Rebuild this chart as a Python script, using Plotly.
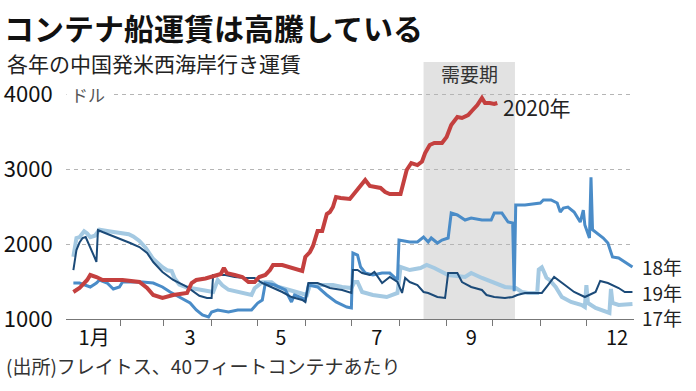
import plotly.graph_objects as go

# ---------------- data (day of year, 0 = Jan 1; freight rate in USD) ----------------
days_17 = [0, 2, 4, 7, 9, 11, 14, 17, 23, 30, 36, 39, 43, 47, 52, 58, 61, 64, 66, 69,
           74, 80, 86, 91, 94, 97, 101, 110, 116, 118, 123, 129, 133, 140, 146, 152, 154, 161, 169, 175,
           181, 183, 185, 188, 195, 204, 211, 213, 219, 226, 230, 235, 244, 255, 259, 266, 274, 281, 288, 292,
           296, 302, 303, 305, 307, 308, 310, 314, 318, 324, 331, 333, 334, 335, 340, 346, 349, 350, 351, 355,
           364]
vals_17 = [1830, 2080, 2090, 2170, 2140, 2090, 2110, 2190, 2170, 2150, 2130, 2100, 2040, 1950, 1800, 1690, 1650, 1640, 1540, 1460,
           1420, 1400, 1380, 1360, 1520, 1450, 1390, 1350, 1320, 1410, 1490, 1490, 1430, 1390, 1350, 1320, 1453, 1453, 1453, 1427,
           1413, 1493, 1493, 1360, 1320, 1293, 1347, 1693, 1653, 1680, 1720, 1680, 1587, 1560, 1613, 1547, 1480, 1427, 1413, 1360,
           1347, 1347, 1660, 1690, 1600, 1550, 1520, 1427, 1293, 1227, 1187, 1160, 1450, 1213, 1147, 1093, 1080, 1400, 1213, 1187,
           1200]

days_18 = [0, 4, 11, 15, 17, 22, 26, 30, 32, 39, 45, 52, 58, 63, 69, 76, 80, 84, 88, 90,
           94, 101, 107, 116, 120, 123, 125, 131, 138, 142, 144, 149, 151, 153, 159, 165, 171, 178, 181, 182,
           185, 187, 190, 195, 201, 206, 211, 212, 219, 224, 228, 231, 233, 237, 240, 244, 246, 250, 255, 259,
           266, 272, 274, 279, 283, 286, 287, 288, 294, 304, 306, 311, 315, 317, 319, 322, 326, 330, 332, 333,
           336, 337, 338, 342, 345, 348, 351, 355, 359, 364]
vals_18 = [1480, 1480, 1427, 1480, 1520, 1480, 1400, 1427, 1493, 1493, 1493, 1480, 1427, 1360, 1293, 1213, 1120, 1053, 1027, 1093,
           1120, 1093, 1120, 1120, 1213, 1253, 1480, 1453, 1387, 1227, 1320, 1280, 1253, 1453, 1427, 1320, 1227, 1160, 1147, 1880,
           1853, 1693, 1613, 1587, 1613, 1613, 1520, 2053, 2027, 2027, 2093, 2027, 2080, 2013, 2053, 2080, 2413, 2387, 2320, 2347,
           2320, 2320, 2413, 2413, 2293, 2280, 1370, 2520, 2520, 2547, 2587, 2587, 2547, 2427, 2480, 2493, 2427, 2293, 2453, 2253,
           2080, 2890, 2190, 2120, 2080, 2013, 1827, 1813, 1760, 1693]

days_19 = [0, 2, 4, 6, 8, 11, 13, 14, 15, 16, 19, 24, 28, 32, 37, 43, 48, 52, 58, 65,
           74, 82, 87, 90, 91, 99, 105, 112, 118, 123, 129, 136, 142, 149, 151, 153, 159, 167, 175, 181,
           182, 185, 188, 193, 196, 200, 201, 206, 211, 214, 216, 219, 224, 228, 231, 237, 242, 244, 250, 253,
           259, 266, 269, 274, 281, 286, 289, 294, 305, 309, 313, 320, 326, 333, 340, 343, 348, 355, 359, 364]
vals_19 = [1653, 1920, 2020, 2080, 2093, 1960, 1880, 1813, 1760, 2187, 2160, 2120, 2093, 2053, 2013, 1960, 1880, 1760, 1627, 1520,
           1427, 1310, 1280, 1280, 1587, 1587, 1560, 1547, 1547, 1480, 1427, 1360, 1293, 1253, 1227, 1480, 1480, 1413, 1387, 1347,
           1653, 1653, 1613, 1587, 1627, 1520, 1480, 1560, 1493, 1347, 1547, 1493, 1453, 1360, 1347, 1293, 1280, 1613, 1613, 1493,
           1427, 1387, 1320, 1293, 1280, 1293, 1320, 1347, 1347, 1453, 1560, 1453, 1360, 1293, 1360, 1507, 1480, 1413, 1360, 1360]

days_20 = [0, 4, 9, 11, 15, 19, 24, 32, 43, 48, 52, 58, 65, 74, 77, 80, 86, 92, 96, 98,
           100, 105, 110, 114, 118, 121, 125, 128, 130, 136, 142, 149, 151, 154, 156, 159, 162, 165, 167, 169,
           171, 174, 180, 183, 187, 190, 193, 200, 203, 206, 213, 214, 217, 220, 224, 227, 229, 232, 235, 240,
           243, 246, 250, 253, 257, 260, 263, 266, 268, 271, 274, 276]
vals_20 = [1360, 1413, 1520, 1587, 1560, 1520, 1520, 1520, 1493, 1413, 1320, 1280, 1320, 1347, 1480, 1520, 1540, 1580, 1600, 1680,
           1610, 1587, 1560, 1493, 1493, 1560, 1587, 1653, 1720, 1720, 1680, 1640, 1827, 1893, 1973, 2173, 2173, 2400, 2427, 2493,
           2627, 2613, 2600, 2680, 2787, 2853, 2773, 2747, 2693, 2667, 2667, 2760, 2987, 3080, 3053, 3100, 3213, 3320, 3347, 3347,
           3427, 3587, 3693, 3680, 3720, 3787, 3853, 3947, 3880, 3880, 3867, 3880]

month_starts = [31, 59, 90, 120, 151, 181, 212, 243, 273, 304, 334]
label_days = [13.5, 76, 135, 197.5, 259, 354]
label_text = ["1月", "3", "5", "7", "9", "12"]
y_ticks = [1000, 2000, 3000, 4000]
y_text = ["1000", "2000", "3000", "4000"]
season_start, season_end = 228, 287.5   # 需要期

FONT = "Noto Sans CJK JP"
X_RANGE = [-4.8, 365]
Y_RANGE = [1000, 4427]

fig = go.Figure()
series = [
    ("17年", days_17, vals_17, "#a4c9e2", 4.0, -13),
    ("18年", days_18, vals_18, "#4a8cc8", 3.0, 1),
    ("19年", days_19, vals_19, "#1b4a78", 2.0, 0),
    ("2020年", days_20, vals_20, "#c4403f", 4.0, -4),
]
for name, d, v, col, w, ysh in series:
    fig.add_trace(go.Scatter(x=d, y=v, mode="lines", line=dict(color=col, width=w),
                             name=name, showlegend=False, hoverinfo="skip"))
    if name == "2020年":
        fig.add_annotation(x=d[-1], y=v[-1], xref="x", yref="y", text=name, showarrow=False,
                           xanchor="left", xshift=4, yshift=ysh,
                           font=dict(family=FONT, size=21, color="#222"))
    else:
        fig.add_annotation(x=1, y=v[-1], xref="paper", yref="y", text=name, showarrow=False,
                           xanchor="left", xshift=7, yshift=ysh, borderpad=0,
                           font=dict(family=FONT, size=19, color="#222"))

# dummy trace for label axis
fig.add_trace(go.Scatter(x=[None], y=[None], xaxis="x2", showlegend=False, hoverinfo="skip"))

fig.add_shape(type="rect", xref="x", yref="paper", x0=season_start, x1=season_end, y0=0, y1=1,
              fillcolor="#e2e2e2", line=dict(width=0), layer="below")
fig.add_annotation(x=(season_start + season_end) / 2, y=1, xref="x", yref="paper", text="需要期",
                   showarrow=False, yanchor="top", yshift=4,
                   font=dict(family=FONT, size=19, color="#333"))

fig.add_annotation(x=0, y=4000, xref="paper", yref="y", text="ドル", showarrow=False,
                   xanchor="left", width=38, align="left", borderpad=4, bgcolor="white",
                   font=dict(family=FONT, size=17, color="#555"))

fig.add_annotation(x=(5 - 66) / 568, y=(319 - 63) / 257, xref="paper", yref="paper", xanchor="left",
                   yanchor="middle", text="各年の中国発米西海岸行き運賃", showarrow=False,
                   font=dict(family=FONT, size=21, color="#222"))
fig.add_annotation(x=(4 - 66) / 568, y=(319 - 365) / 257, xref="paper", yref="paper", xanchor="left",
                   yanchor="middle", text="(出所)フレイトス、40フィートコンテナあたり", showarrow=False,
                   font=dict(family=FONT, size=19, color="#333"))

fig.update_layout(
    width=696, height=391,
    margin=dict(l=66, r=62, t=62, b=72, autoexpand=False),
    paper_bgcolor="white", plot_bgcolor="white",
    title=dict(text="<b>コンテナ船運賃は高騰している</b>", x=4 / 696, xanchor="left",
               y=1 - 29 / 391, yanchor="middle",
               font=dict(family=FONT, size=30, color="#111")),
    xaxis=dict(range=X_RANGE, tickmode="array", tickvals=month_starts, showticklabels=False,
               ticks="outside", ticklen=6, tickcolor="#777", tickwidth=1, automargin=False,
               showline=True, linecolor="#777", linewidth=1, showgrid=False, zeroline=False),
    xaxis2=dict(range=X_RANGE, overlaying="x", anchor="y", side="bottom", tickmode="array",
                tickvals=label_days, ticktext=label_text, ticks="outside", ticklen=1,
                tickcolor="rgba(0,0,0,0)", showline=False, showgrid=False, zeroline=False,
                automargin=False, tickfont=dict(family=FONT, size=20, color="#111")),
    yaxis=dict(range=Y_RANGE, tickmode="array", tickvals=y_ticks, ticktext=y_text,
               ticks="outside", ticklen=8, tickcolor="rgba(0,0,0,0)", automargin=False,
               showgrid=True, gridcolor="#b5b5b5", gridwidth=1, griddash="4px,4px",
               zeroline=False, showline=False,
               tickfont=dict(family=FONT, size=22, color="#111")),
    font=dict(family=FONT),
)

fig.write_html("out.html", config={"displayModeBar": False},
               post_script="document.body.style.margin='0';document.body.style.overflow='hidden';")
